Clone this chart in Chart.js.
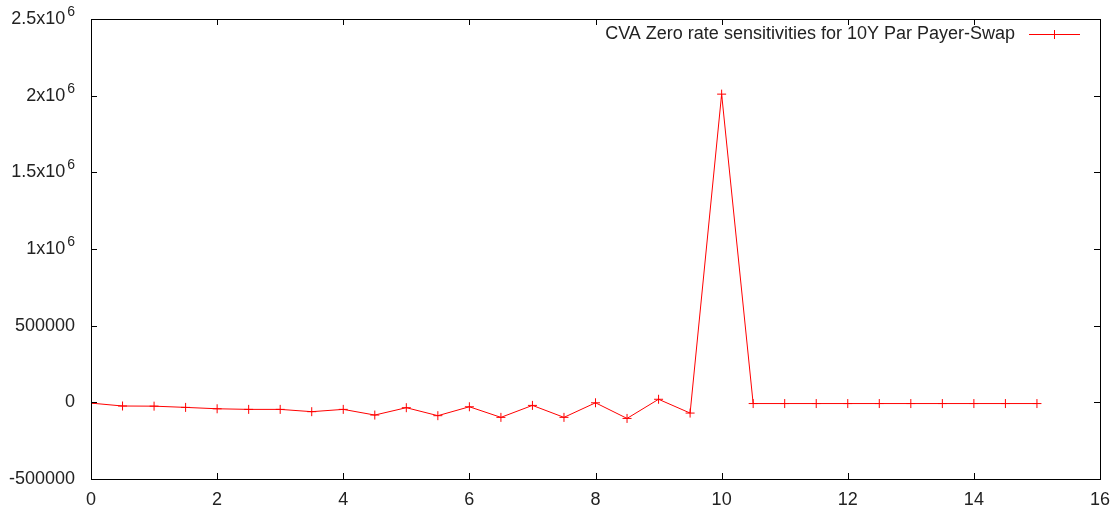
<!DOCTYPE html>
<html lang="en">
<head>
  <meta charset="UTF-8">
  <title>CVA Zero rate sensitivities</title>
  <style>
    body {
      margin: 0;
      background: #fff;
    }
    .chart-container {
      position: relative;
      width: 1120px;
      height: 515px;
    }
  </style>
</head>
<body>
  <div class="chart-container">
    <canvas id="cvaChart"></canvas>
  </div>

  <script src="https://cdn.jsdelivr.net/npm/chart.js"></script>
  <script>
    // data
    const tenors = [0, 0.5, 1, 1.5, 2, 2.5, 3, 3.5, 4, 4.5, 5, 5.5, 6, 6.5, 7, 7.5, 8, 8.5, 9, 9.5,
                    10, 10.5, 11, 11.5, 12, 12.5, 13, 13.5, 14, 14.5, 15];
    const sensitivities = [-5000, -24000, -25000, -33000, -42000, -46000, -46000, -61000, -46000, -83000,
                           -35000, -87000, -29000, -98000, -20000, -98000, -3000, -105000, 20000, -70000,
                           2010000, -8000, -8000, -8000, -8000, -8000, -8000, -8000, -8000, -8000, -8000];
    const seriesLabel = 'CVA Zero rate sensitivities for 10Y Par Payer-Swap';

    const xTicks = [0, 2, 4, 6, 8, 10, 12, 14, 16];
    const yTicks = [-500000, 0, 500000, 1000000, 1500000, 2000000, 2500000];
    // [main text, superscript]
    const yTickLabels = [['-500000', ''], ['0', ''], ['500000', ''], ['1x10', '6'],
                         ['1.5x10', '6'], ['2x10', '6'], ['2.5x10', '6']];

    const FONT = '"Liberation Sans", Arial, sans-serif';

    // gnuplot style frame, inner ticks, labels and key
    const gnuplotFrame = {
      id: 'gnuplotFrame',
      afterDraw(chart) {
        const { ctx, chartArea: a } = chart;
        const xs = chart.scales.x, ys = chart.scales.y;
        ctx.save();
        ctx.strokeStyle = '#000';
        ctx.lineWidth = 1;
        ctx.strokeRect(Math.round(a.left) + 0.5, Math.round(a.top) + 0.5,
                       Math.round(a.right - a.left), Math.round(a.bottom - a.top));

        const tl = 6;
        ctx.beginPath();
        xTicks.forEach(v => {
          const px = Math.round(xs.getPixelForValue(v)) + 0.5;
          ctx.moveTo(px, a.bottom); ctx.lineTo(px, a.bottom - tl);
          ctx.moveTo(px, a.top); ctx.lineTo(px, a.top + tl);
        });
        yTicks.forEach(v => {
          const py = Math.round(ys.getPixelForValue(v)) + 0.5;
          ctx.moveTo(a.left, py); ctx.lineTo(a.left + tl, py);
          ctx.moveTo(a.right, py); ctx.lineTo(a.right - tl, py);
        });
        ctx.stroke();

        ctx.fillStyle = '#222';
        ctx.font = '18px ' + FONT;
        ctx.textAlign = 'center';
        ctx.textBaseline = 'middle';
        xTicks.forEach(v => {
          ctx.fillText(String(v), xs.getPixelForValue(v), a.bottom + 21);
        });

        const rightEdge = a.left - 16;
        yTicks.forEach((v, i) => {
          const py = ys.getPixelForValue(v);
          const [main, sup] = yTickLabels[i];
          let x = rightEdge;
          if (sup) {
            ctx.font = '14px ' + FONT;
            ctx.textAlign = 'right';
            ctx.fillText(sup, x, py - 7);
            x -= ctx.measureText(sup).width + 2;
          }
          ctx.font = '18px ' + FONT;
          ctx.textAlign = 'right';
          ctx.fillText(main, x, py);
        });

        // key
        const ds = chart.data.datasets[0];
        const ky = a.top + 15;
        ctx.font = '18px ' + FONT;
        ctx.textAlign = 'right';
        ctx.fillText(ds.label, 1015, ky);
        ctx.strokeStyle = ds.borderColor;
        ctx.beginPath();
        ctx.moveTo(1029, ky + 0.5); ctx.lineTo(1080, ky + 0.5);
        ctx.moveTo(1054.5, ky - 4); ctx.lineTo(1054.5, ky + 5);
        ctx.stroke();
        ctx.restore();
      }
    };

    const ctx = document.getElementById('cvaChart').getContext('2d');
    new Chart(ctx, {
      type: 'line',
      data: {
        datasets: [{
          label: seriesLabel,
          data: tenors.map((t, i) => ({ x: t, y: sensitivities[i] })),
          borderColor: '#ff0000',
          borderWidth: 1,
          pointStyle: 'cross',
          pointRadius: 4.5,
          pointBorderColor: '#ff0000',
          pointBorderWidth: 1,
          tension: 0,
          fill: false
        }]
      },
      options: {
        responsive: true,
        maintainAspectRatio: false,
        animation: false,
        layout: { padding: { left: 91, right: 20, top: 19, bottom: 36 } },
        plugins: {
          legend: { display: false },
          tooltip: { enabled: false }
        },
        scales: {
          x: { type: 'linear', min: 0, max: 16, display: false },
          y: { min: -500000, max: 2500000, display: false }
        }
      },
      plugins: [gnuplotFrame]
    });
  </script>
</body>
</html>
